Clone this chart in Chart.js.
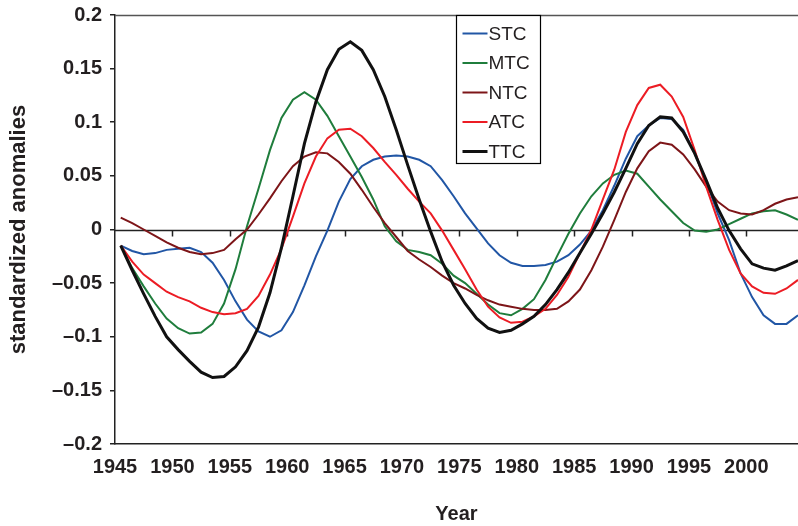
<!DOCTYPE html>
<html>
<head>
<meta charset="utf-8">
<script src="https://cdn.jsdelivr.net/npm/chart.js@4/dist/chart.umd.min.js"></script>
<style>
  html, body { margin: 0; padding: 0; background: #fff; }
  #wrap { width: 798px; height: 526px; position: relative; }
</style>
</head>
<body>
<div id="wrap"><canvas id="chart"></canvas></div>
<script>
// annual values, plotted at mid-year
var years = [1945, 1946, 1947, 1948, 1949, 1950, 1951, 1952, 1953, 1954,
             1955, 1956, 1957, 1958, 1959, 1960, 1961, 1962, 1963, 1964,
             1965, 1966, 1967, 1968, 1969, 1970, 1971, 1972, 1973, 1974,
             1975, 1976, 1977, 1978, 1979, 1980, 1981, 1982, 1983, 1984,
             1985, 1986, 1987, 1988, 1989, 1990, 1991, 1992, 1993, 1994,
             1995, 1996, 1997, 1998, 1999, 2000, 2001, 2002, 2003, 2004];

var stc = [-0.015, -0.020, -0.023, -0.022, -0.019, -0.018, -0.017, -0.021, -0.031, -0.047,
           -0.067, -0.084, -0.095, -0.100, -0.094, -0.077, -0.052, -0.025, -0.001, 0.026,
           0.047, 0.059, 0.065, 0.068, 0.069, 0.068, 0.065, 0.059, 0.046, 0.031,
           0.015, 0.001, -0.013, -0.024, -0.031, -0.034, -0.034, -0.033, -0.030, -0.024,
           -0.014, -0.001, 0.018, 0.041, 0.066, 0.087, 0.097, 0.104, 0.103, 0.093,
           0.071, 0.045, 0.015, -0.010, -0.041, -0.063, -0.080, -0.088, -0.088, -0.080];

var mtc = [-0.015, -0.036, -0.053, -0.069, -0.083, -0.092, -0.097, -0.096, -0.088, -0.069,
           -0.037, 0.003, 0.038, 0.074, 0.104, 0.121, 0.128, 0.121, 0.106, 0.087,
           0.068, 0.049, 0.028, 0.003, -0.011, -0.019, -0.021, -0.024, -0.032, -0.043,
           -0.050, -0.060, -0.070, -0.078, -0.080, -0.074, -0.065, -0.047, -0.025, -0.004,
           0.015, 0.031, 0.043, 0.051, 0.055, 0.052, 0.040, 0.028, 0.017, 0.006,
           -0.001, -0.002, 0.000, 0.005, 0.010, 0.015, 0.017, 0.018, 0.014, 0.009];

var ntc = [0.011, 0.006, 0.000, -0.006, -0.012, -0.017, -0.021, -0.023, -0.022, -0.019,
           -0.009, 0.000, 0.014, 0.029, 0.045, 0.059, 0.068, 0.072, 0.071, 0.063,
           0.052, 0.037, 0.021, 0.006, -0.007, -0.020, -0.028, -0.035, -0.043, -0.050,
           -0.055, -0.061, -0.066, -0.070, -0.072, -0.074, -0.075, -0.075, -0.074, -0.067,
           -0.056, -0.038, -0.016, 0.009, 0.035, 0.057, 0.073, 0.081, 0.079, 0.070,
           0.056, 0.040, 0.026, 0.018, 0.015, 0.014, 0.018, 0.024, 0.028, 0.030];

var atc = [-0.015, -0.030, -0.042, -0.050, -0.058, -0.063, -0.067, -0.073, -0.077, -0.079,
           -0.078, -0.074, -0.062, -0.042, -0.018, 0.012, 0.043, 0.068, 0.085, 0.093,
           0.094, 0.087, 0.076, 0.063, 0.051, 0.038, 0.026, 0.015, -0.001, -0.019,
           -0.037, -0.056, -0.072, -0.082, -0.087, -0.086, -0.081, -0.074, -0.061, -0.044,
           -0.022, 0.000, 0.028, 0.056, 0.091, 0.116, 0.132, 0.135, 0.124, 0.105,
           0.074, 0.040, 0.009, -0.019, -0.041, -0.053, -0.059, -0.060, -0.055, -0.047];

var ttc = [-0.015, -0.038, -0.060, -0.081, -0.100, -0.112, -0.123, -0.133, -0.138, -0.137,
           -0.128, -0.113, -0.091, -0.059, -0.017, 0.031, 0.080, 0.119, 0.149, 0.168,
           0.175, 0.167, 0.149, 0.124, 0.093, 0.060, 0.028, -0.002, -0.030, -0.052,
           -0.069, -0.083, -0.092, -0.096, -0.094, -0.088, -0.081, -0.070, -0.056, -0.040,
           -0.022, -0.004, 0.015, 0.035, 0.057, 0.080, 0.097, 0.105, 0.104, 0.091,
           0.071, 0.046, 0.020, -0.001, -0.018, -0.032, -0.036, -0.038, -0.034, -0.029];

var names = ["STC", "MTC", "NTC", "ATC", "TTC"];
var series = [stc, mtc, ntc, atc, ttc];
var colors = ["#2156a5", "#1f7d3c", "#7d1518", "#ec1c24", "#111111"];
var widths = [2, 2, 2, 2, 3];

var FONT = "'Liberation Sans', Arial, Helvetica, sans-serif";
var INK = "#231f20";

function points(vals) {
  return vals.map(function (v, i) { return { x: years[i] + 0.5, y: v }; });
}

// zero line with year ticks, top frame line, and the boxed key
var extras = {
  id: 'extras',
  beforeDatasetsDraw: function (chart) {
    var ctx = chart.ctx, a = chart.chartArea;
    var xs = chart.scales.x, ys = chart.scales.y;
    var y0 = Math.round(ys.getPixelForValue(0)) + 0.5;
    ctx.save();
    ctx.strokeStyle = "#555";
    ctx.lineWidth = 1.5;
    ctx.beginPath();
    ctx.moveTo(a.left, a.top + 0.5);
    ctx.lineTo(a.right, a.top + 0.5);
    ctx.stroke();
    ctx.strokeStyle = "#222";
    ctx.lineWidth = 1.5;
    ctx.beginPath();
    ctx.moveTo(a.left, y0);
    ctx.lineTo(a.right, y0);
    xs.ticks.forEach(function (t) {
      if (t.value <= xs.min) return;
      var px = Math.round(xs.getPixelForValue(t.value)) + 0.5;
      ctx.moveTo(px, y0);
      ctx.lineTo(px, y0 + 6);
    });
    ctx.stroke();
    ctx.restore();
  },
  afterDatasetsDraw: function (chart) {
    var ctx = chart.ctx, a = chart.chartArea;
    var bx = a.left + 341.5, by = a.top + 0.5, bw = 84, bh = 148;
    ctx.save();
    ctx.fillStyle = "#fff";
    ctx.fillRect(bx, by, bw, bh);
    ctx.strokeStyle = "#000";
    ctx.lineWidth = 1.2;
    ctx.strokeRect(bx, by, bw, bh);
    ctx.font = "19px " + FONT;
    ctx.textBaseline = "middle";
    ctx.textAlign = "left";
    chart.data.datasets.forEach(function (ds, i) {
      var cy = by + 18 + i * 29.5;
      ctx.strokeStyle = ds.borderColor;
      ctx.lineWidth = ds.borderWidth;
      ctx.beginPath();
      ctx.moveTo(bx + 6, cy);
      ctx.lineTo(bx + 31, cy);
      ctx.stroke();
      ctx.fillStyle = INK;
      ctx.fillText(ds.label, bx + 32, cy + 1);
    });
    ctx.restore();
  }
};

var datasets = names.map(function (n, i) {
  return {
    label: n,
    data: points(series[i]),
    borderColor: colors[i],
    backgroundColor: colors[i],
    borderWidth: widths[i],
    pointRadius: 0,
    tension: 0,
    order: names.length - 1 - i
  };
});

var ctx = document.getElementById('chart').getContext('2d');
window.anomalies = new Chart(ctx, {
  type: 'line',
  data: { datasets: datasets },
  plugins: [extras],
  options: {
    responsive: true,
    maintainAspectRatio: false,
    animation: false,
    layout: { padding: { top: 15, right: 0, bottom: 0, left: 6 } },
    plugins: { legend: { display: false }, tooltip: { enabled: false } },
    scales: {
      x: {
        type: 'linear',
        min: 1945,
        max: 2004.5,
        afterFit: function (s) { s.height = 82; s.paddingLeft = 0; s.paddingRight = 0; },
        ticks: {
          stepSize: 5,
          includeBounds: false,
          padding: 11,
          color: INK,
          font: { family: FONT, size: 20, weight: 'bold' },
          callback: function (v) { return String(v); }
        },
        grid: { display: false, drawTicks: false },
        border: { display: true, color: "#222", width: 1.5 },
        title: {
          display: true,
          text: 'Year',
          color: INK,
          padding: 0,
          font: { family: FONT, size: 20, weight: 'bold' }
        }
      },
      y: {
        min: -0.2,
        max: 0.2,
        afterFit: function (s) { s.width = 109; s.paddingTop = 0; s.paddingBottom = 0; },
        ticks: {
          stepSize: 0.05,
          padding: 8,
          color: INK,
          font: { family: FONT, size: 20, weight: 'bold' },
          callback: function (v) {
            var r = Math.round(v * 100) / 100;
            return String(r).replace('-', '\u2013');
          }
        },
        grid: { drawOnChartArea: false, drawTicks: true, tickLength: 5, color: "#222", lineWidth: 1.5 },
        border: { display: true, color: "#222", width: 1.5 },
        title: {
          display: true,
          text: 'standardized anomalies',
          color: INK,
          padding: 0,
          font: { family: FONT, size: 22, weight: 'bold' }
        }
      }
    }
  }
});
</script>
</body>
</html>
